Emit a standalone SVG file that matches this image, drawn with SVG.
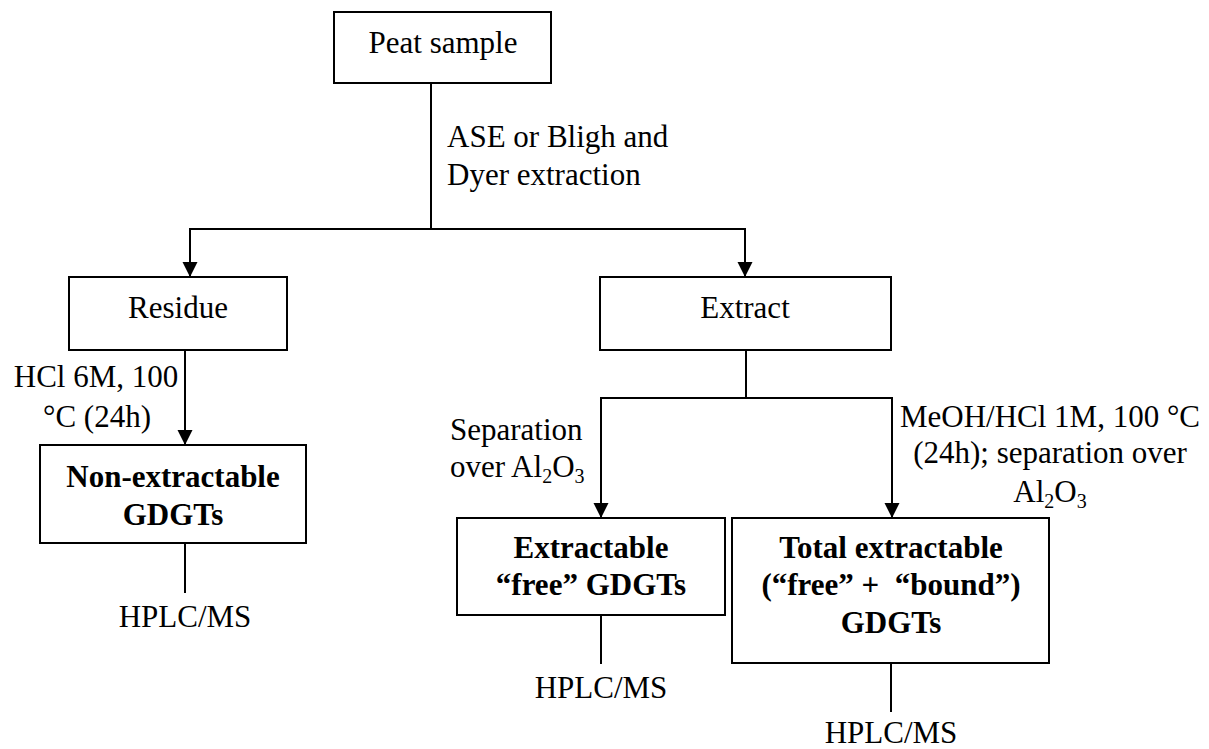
<svg xmlns="http://www.w3.org/2000/svg" width="1209" height="749" viewBox="0 0 1209 749">
<style>
text{font-family:"Liberation Serif","Times New Roman",serif;font-size:31px;fill:#000;white-space:pre}
.b{font-weight:bold}
.m{text-anchor:middle}
.box{fill:#fff;stroke:#000;stroke-width:2}
.ln{fill:none;stroke:#000;stroke-width:2}
.sub{font-size:20px}
</style>
<defs>
<marker id="arr" markerUnits="userSpaceOnUse" markerWidth="16" markerHeight="16" refX="15" refY="7.5" orient="auto" viewBox="0 0 16 16">
<path d="M0,0 L15,7.5 L0,15 z" fill="#000"/>
</marker>
</defs>
<g id="connectors">
<polyline class="ln" points="431,83 431,229"/>
<polyline class="ln" points="431,229 190,229 190,277" marker-end="url(#arr)"/>
<polyline class="ln" points="431,229 745,229 745,277" marker-end="url(#arr)"/>
<polyline class="ln" points="185,350 185,445" marker-end="url(#arr)"/>
<polyline class="ln" points="185,543 185,593"/>
<polyline class="ln" points="746,350 746,398"/>
<polyline class="ln" points="746,398 601,398 601,518" marker-end="url(#arr)"/>
<polyline class="ln" points="746,398 892,398 892,518" marker-end="url(#arr)"/>
<polyline class="ln" points="601,615 601,664"/>
<polyline class="ln" points="891,663 891,712"/>
<text x="447" y="147">ASE or Bligh and</text>
<text x="447" y="185">Dyer extraction</text>
<text class="m" x="96" y="387">HCl 6M, 100</text>
<text class="m" x="97" y="427">°C (24h)</text>
<text x="450" y="440">Separation</text>
<text x="450" y="477">over Al<tspan class="sub" dy="6">2</tspan><tspan dy="-6">O</tspan><tspan class="sub" dy="6">3</tspan></text>
<text class="m" x="1050" y="427">MeOH/HCl 1M, 100 °C</text>
<text class="m" x="1050" y="463">(24h); separation over</text>
<text class="m" x="1050" y="502">Al<tspan class="sub" dy="6">2</tspan><tspan dy="-6">O</tspan><tspan class="sub" dy="6">3</tspan></text>
</g>
<g id="peat">
<rect class="box" x="334" y="12" width="217" height="71"/>
<text class="m" x="443" y="53">Peat sample</text>
</g>
<g id="residue">
<rect class="box" x="69" y="277" width="218" height="73"/>
<text class="m" x="178" y="318">Residue</text>
</g>
<g id="extract">
<rect class="box" x="600" y="277" width="291" height="73"/>
<text class="m" x="745" y="318">Extract</text>
</g>
<g id="nonextractable">
<rect class="box" x="40" y="445" width="266" height="98"/>
<text class="m b" x="173" y="487">Non-extractable</text>
<text class="m b" x="173" y="525">GDGTs</text>
</g>
<g id="hplc1">
<text class="m" x="185" y="627">HPLC/MS</text>
</g>
<g id="free">
<rect class="box" x="457" y="518" width="268" height="97"/>
<text class="m b" x="591" y="558">Extractable</text>
<text class="m b" x="591" y="595">“free” GDGTs</text>
</g>
<g id="hplc2">
<text class="m" x="601" y="698">HPLC/MS</text>
</g>
<g id="total">
<rect class="box" x="732" y="518" width="317" height="145"/>
<text class="m b" x="891" y="558">Total extractable</text>
<text class="m b" x="891" y="595">(“free” +  “bound”)</text>
<text class="m b" x="891" y="633">GDGTs</text>
</g>
<g id="hplc3">
<text class="m" x="891" y="743">HPLC/MS</text>
</g>
</svg>
